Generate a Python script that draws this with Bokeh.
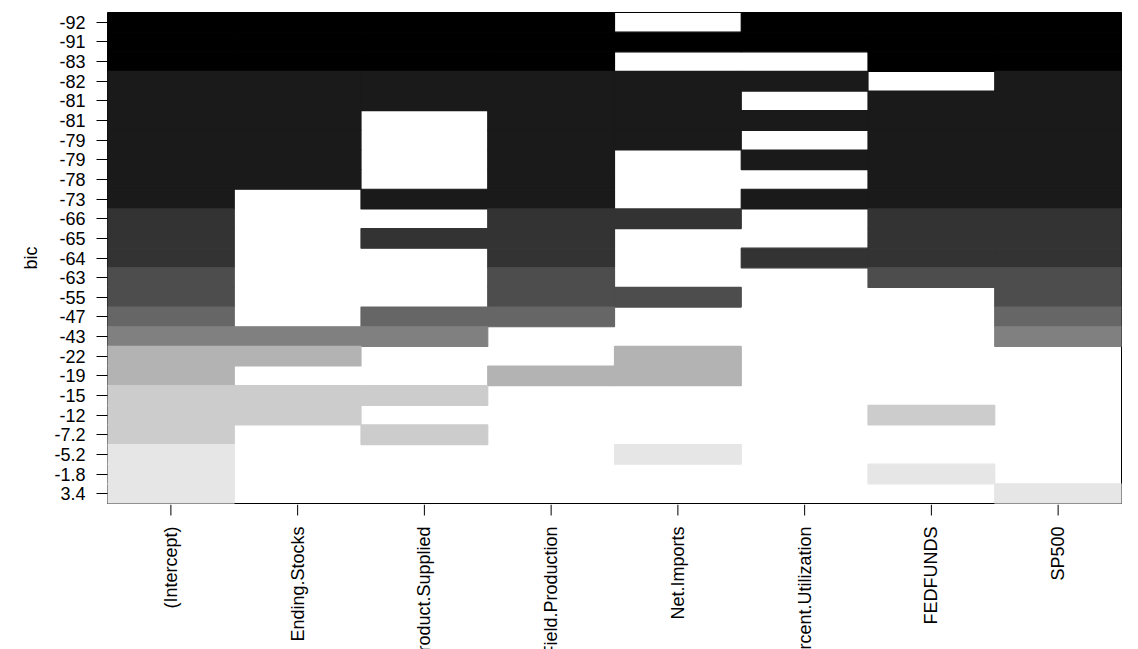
import numpy as np
from bokeh.plotting import figure
from bokeh.layouts import column
from bokeh.models import Range1d, FixedTicker, ColumnDataSource
from bokeh.core.properties import value
from bokeh.transform import linear_cmap
from bokeh.embed import file_html
from bokeh.resources import INLINE

variables = ["(Intercept)", "Ending.Stocks", "Product.Supplied", "Field.Production",
             "Net.Imports", "Percent.Utilization", "FEDFUNDS", "SP500"]

bic_labels = ["-92", "-91", "-83", "-82", "-81", "-81", "-79", "-79", "-78", "-73",
              "-66", "-65", "-64", "-63", "-55", "-47", "-43", "-22", "-19", "-15",
              "-12", "-7.2", "-5.2", "-1.8", "3.4"]
bic_values = [float(s) for s in bic_labels]

# which variables are in each model (rows top to bottom, same order as bic_labels)
included = [
    [1, 1, 1, 1, 0, 1, 1, 1],
    [1, 1, 1, 1, 1, 1, 1, 1],
    [1, 1, 1, 1, 0, 0, 1, 1],
    [1, 1, 1, 1, 1, 1, 0, 1],
    [1, 1, 1, 1, 1, 0, 1, 1],
    [1, 1, 0, 1, 1, 1, 1, 1],
    [1, 1, 0, 1, 1, 0, 1, 1],
    [1, 1, 0, 1, 0, 1, 1, 1],
    [1, 1, 0, 1, 0, 0, 1, 1],
    [1, 0, 1, 1, 0, 1, 1, 1],
    [1, 0, 0, 1, 1, 0, 1, 1],
    [1, 0, 1, 1, 0, 0, 1, 1],
    [1, 0, 0, 1, 0, 1, 1, 1],
    [1, 0, 0, 1, 0, 0, 1, 1],
    [1, 0, 0, 1, 1, 0, 0, 1],
    [1, 0, 1, 1, 0, 0, 0, 1],
    [1, 1, 1, 0, 0, 0, 0, 1],
    [1, 1, 0, 0, 1, 0, 0, 0],
    [1, 0, 0, 1, 1, 0, 0, 0],
    [1, 1, 1, 0, 0, 0, 0, 0],
    [1, 1, 0, 0, 0, 0, 1, 0],
    [1, 0, 1, 0, 0, 0, 0, 0],
    [1, 0, 0, 0, 1, 0, 0, 0],
    [1, 0, 0, 0, 0, 0, 1, 0],
    [1, 0, 0, 0, 0, 0, 0, 1],
]

grey_palette = ["#000000", "#1A1A1A", "#333333", "#4D4D4D", "#666666",
                "#808080", "#999999", "#B3B3B3", "#CCCCCC", "#E6E6E6"]

FONT = "Liberation Sans"
FS = "18px"

xs, ys, bics = [], [], []
for i, row in enumerate(included):
    for j, flag in enumerate(row):
        if flag:
            xs.append(j)
            ys.append(i)
            bics.append(bic_values[i])
src = ColumnDataSource(dict(x=xs, y=ys, bic=bics))

n_rows = len(bic_labels)
n_cols = len(variables)
cols = list(range(n_cols))

x_range = Range1d(-0.5, n_cols - 0.5)

# ---- main image ----
p = figure(width=1138, height=504,
           x_range=x_range,
           y_range=Range1d(n_rows - 0.5, -0.5),
           x_axis_location=None,
           output_backend="svg", toolbar_location=None,
           min_border_left=107, min_border_right=17,
           min_border_top=12, min_border_bottom=1)

cmap = linear_cmap("bic", grey_palette, low=min(bic_values), high=max(bic_values))
p.rect(x="x", y="y", width=1, height=1, source=src,
       fill_color=cmap, line_color=cmap, line_width=1.2)

p.xgrid.visible = False
p.ygrid.visible = False
p.background_fill_color = "white"
p.border_fill_color = "white"
p.outline_line_color = "black"
p.outline_line_width = 1

p.yaxis.ticker = FixedTicker(ticks=list(range(n_rows)))
p.yaxis.major_label_overrides = {i: lab for i, lab in enumerate(bic_labels)}
p.yaxis.axis_label = "bic"
p.yaxis.axis_label_text_font = FONT
p.yaxis.axis_label_text_font_size = FS
p.yaxis.axis_label_text_font_style = "normal"
p.yaxis.axis_label_text_color = "black"
p.yaxis.axis_label_standoff = 10
p.yaxis.major_label_text_font = FONT
p.yaxis.major_label_text_font_size = FS
p.yaxis.major_label_text_color = "black"
p.yaxis.major_label_standoff = 11
p.yaxis.major_tick_out = 11
p.yaxis.major_tick_in = 0
p.yaxis.minor_tick_line_color = None
p.yaxis.axis_line_color = None
p.yaxis.major_tick_line_color = "black"

# ---- strip below with x ticks and variable names (cut at the bottom edge) ----
strip_h = 145
q = figure(width=1138, height=strip_h,
           x_range=x_range, y_range=Range1d(0, strip_h),
           x_axis_location=None, y_axis_location=None,
           output_backend="svg", toolbar_location=None,
           min_border_left=107, min_border_right=17,
           min_border_top=0, min_border_bottom=0)
q.xgrid.visible = False
q.ygrid.visible = False
q.outline_line_color = None
q.background_fill_color = "white"
q.border_fill_color = "white"

tick_len = 11
label_gap = 22
q.segment(x0=cols, y0=[strip_h] * n_cols, x1=cols, y1=[strip_h - tick_len] * n_cols,
          line_color="black", line_width=1)
q.text(x=cols, y=[strip_h - label_gap] * n_cols, text=variables,
       angle=np.pi / 2, text_align="right", text_baseline="middle",
       text_font=value(FONT), text_font_size=FS, text_color="black")

layout = column(p, q, spacing=0)
open("out.html", "w").write(file_html(layout, INLINE))
